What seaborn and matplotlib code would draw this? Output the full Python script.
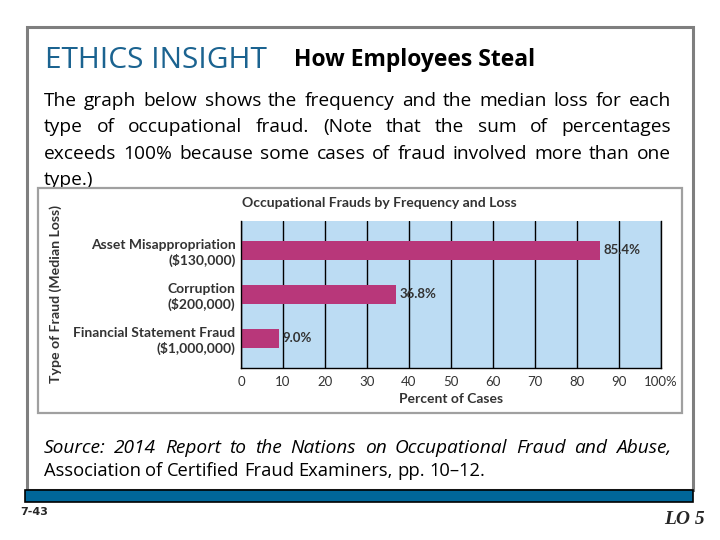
import numpy as np
import pandas as pd
import matplotlib
matplotlib.use("Agg")
import matplotlib.pyplot as plt
import seaborn as sns
from matplotlib.patches import Rectangle

# chart data
fraud_types = ["Asset Misappropriation\n($130,000)",
               "Corruption\n($200,000)",
               "Financial Statement Fraud\n($1,000,000)"]
percent_cases = [85.4, 36.8, 9.0]
x_ticks = [0, 10, 20, 30, 40, 50, 60, 70, 80, 90, 100]
x_tick_labels = ["0", "10", "20", "30", "40", "50", "60", "70", "80", "90", "100%"]

# slide text
heading = "ETHICS INSIGHT"
subheading = "How Employees Steal"
body_lines = [
    "The graph below shows the frequency and the median loss for each",
    "type of occupational fraud. (Note that the sum of percentages",
    "exceeds 100% because some cases of fraud involved more than one",
    "type.)",
]
source_lines = [
    "Source: 2014 Report to the Nations on Occupational Fraud and Abuse,",
    "Association of Certified Fraud Examiners, pp. 10\u201312.",
]
chart_title = "Occupational Frauds by Frequency and Loss"

sns.set_style("white")
plt.rcParams["font.family"] = ["Open Sans", "DejaVu Sans"]

fig = plt.figure(figsize=(7.2, 5.4), dpi=100)
canvas = fig.add_axes([0, 0, 1, 1])
canvas.set_xlim(0, 720)
canvas.set_ylim(540, 0)
canvas.axis("off")
renderer = fig.canvas.get_renderer()


def justified(line, x0, x1, y, justify=True, **kw):
    words = line.split()
    texts = [canvas.text(0, y, w, va="center", ha="left", **kw) for w in words]
    widths = [t.get_window_extent(renderer).width for t in texts]
    if justify and len(words) > 1:
        gap = (x1 - x0 - sum(widths)) / (len(words) - 1)
    else:
        gap = 0.24 * kw.get("fontsize", 12) * 100 / 72
    x = x0
    for t, w in zip(texts, widths):
        t.set_x(x)
        x += w + gap


# outer frame and bottom bar
canvas.add_patch(Rectangle((27, 27), 666, 463, fill=False, ec="#7f7f7f", lw=2.2, zorder=1))
canvas.add_patch(Rectangle((25, 490), 668, 12, fc="#006699", ec="black", lw=1.2, zorder=3))
canvas.text(20, 512, "7-43", fontsize=8, fontweight="bold", va="center", ha="left",
            family=["Liberation Sans Narrow", "DejaVu Sans"])
canvas.text(705, 520, "LO 5", fontsize=14, fontweight="bold", style="italic",
            va="center", ha="right", family=["Liberation Serif", "DejaVu Serif"])

# heading
canvas.text(45, 60, heading, fontsize=21.5, color="#1b6390", va="center", ha="left")
canvas.text(294, 60, subheading, fontsize=16.5, fontweight="bold", color="black",
            va="center", ha="left")

# body paragraph
for i, line in enumerate(body_lines):
    justified(line, 44, 671, 101 + i * 26.3, justify=(i < len(body_lines) - 1),
              fontsize=13.8, color="black", zorder=1)

# source
justified(source_lines[0], 44, 671, 448, fontsize=13.8, style="italic", color="black")
justified(source_lines[1], 44, 671, 471, justify=False, fontsize=13.2, color="black")

# chart box (covers the bottom of the last body line)
canvas.add_patch(Rectangle((38, 188), 644, 225, fc="white", ec="#a0a0a0", lw=1.6, zorder=2))

chart_font = ["Lato", "DejaVu Sans"]
canvas.text(242, 203, chart_title, fontsize=10.1, fontweight="bold", color="#333333",
            va="center", ha="left", family=chart_font, zorder=4)
canvas.text(56, 294, "Type of Fraud (Median Loss)", fontsize=10.2, fontweight="bold",
            color="#333333", rotation=90, va="center", ha="center", family=chart_font, zorder=4)
canvas.text(451, 399, "Percent of Cases", fontsize=10, fontweight="bold", color="#333333",
            va="center", ha="center", family=chart_font, zorder=4)

# bar chart
ax = fig.add_axes([241 / 720, 1 - 368 / 540, 420 / 720, 147 / 540])
df = pd.DataFrame({"type": fraud_types, "pct": percent_cases})
sns.barplot(data=df, x="pct", y="type", orient="h", color="#b8377a", saturation=1,
            width=0.43, linewidth=0, ax=ax)
ax.set_facecolor("#bcdcf3")
ax.set_xlim(0, 100)
ax.set_ylim(2.68, -0.66)
ax.set_xticks(x_ticks, x_tick_labels)
ax.set_xlabel("")
ax.set_ylabel("")
ax.grid(axis="x", color="black", lw=1)
ax.grid(axis="y", visible=False)
ax.set_axisbelow(True)
ax.tick_params(length=0)
ax.tick_params(axis="x", pad=6, labelsize=9.5, labelcolor="#333333")
ax.tick_params(axis="y", pad=4, labelsize=10, labelcolor="#333333")
for lab in ax.get_xticklabels():
    lab.set_family(chart_font)
for lab in ax.get_yticklabels():
    lab.set_family(chart_font)
    lab.set_fontweight("bold")
    lab.set_linespacing(1.3)
for side in ["left", "bottom", "right"]:
    ax.spines[side].set_color("black")
    ax.spines[side].set_linewidth(1)
ax.spines["top"].set_visible(False)
ax.bar_label(ax.containers[0], fmt="%.1f%%", padding=3, fontsize=9.5, fontweight="bold",
             color="#333333", family=chart_font)

fig.savefig("out.png", dpi=100)
